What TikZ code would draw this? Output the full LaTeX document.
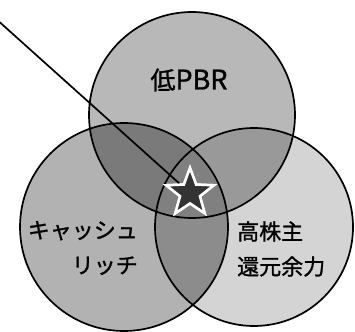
\documentclass[tikz,border=0pt]{standalone}
\usepackage{fontspec}
\newfontfamily\jpfont[FakeBold=1.2]{Noto Sans CJK JP}
\usetikzlibrary{shapes.geometric}
\usetikzlibrary{positioning}
\tikzset {
  venn edge/.style = {
    draw = black,
    line width = 1.7pt
  },
  % text inside the circles
  venn label/.style = {
    font = \jpfont\fontsize{22}{35}\selectfont,
    inner sep = 0
  },
  % the star where all three meet
  hit/.style = {
    star,
    star points = 5,
    star point ratio = 2.4,
    minimum size = 50pt,
    inner sep = 0,
    fill = black!80,
    draw = white,
    line width = 2.5pt
  },
  pointer/.style = {
    draw = black,
    line width = 1.7pt
  }
}
\def\toppath{(192,216) circle (103pt)}
\def\leftpath{(124,104) circle (104pt)}
\def\rightpath{(254,104) circle (99pt)}

\begin{document}
\begin{tikzpicture}[x=1pt, y=1pt]
    \useasboundingbox[fill=white] (0,0) rectangle (355,331);

    % plain areas
    \fill[black!28] \toppath;
    \fill[black!30] \leftpath;
    \fill[black!17] \rightpath;

    % overlaps
    \begin{scope}
      \clip \toppath;
      \fill[black!52] \leftpath;
      \fill[black!40] \rightpath;
    \end{scope}
    \begin{scope}
      \clip \leftpath;
      \fill[black!45] \rightpath;
    \end{scope}
    \begin{scope}
      \clip \toppath;
      \clip \leftpath;
      \fill[black!50] \rightpath;
    \end{scope}

    \path[venn edge] \toppath;
    \path[venn edge] \leftpath;
    \path[venn edge] \rightpath;

    \coordinate (tail) at (-5,313);
    \node[hit] (best) at (190,138) {};
    \draw[pointer] (tail) -- (best);
    \node[hit] at (best) {};

    \node[venn label] (pbr) at (189,251) {{\fontsize{25}{35}\selectfont 低}{\fontsize{27}{35}\selectfont PBR}};
    \node[venn label, align=right, anchor=east] (cash) at (138,83) {キャッシュ\\リッチ};
    \node[venn label, align=left, anchor=west] (payout) at (237,82) {高株主\\還元余力};
  \end{tikzpicture}
\end{document}
